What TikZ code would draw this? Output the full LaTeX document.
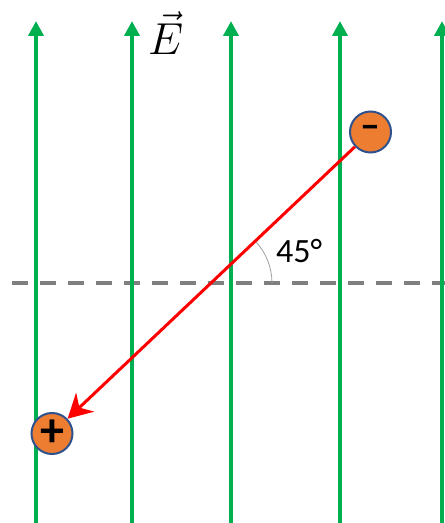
\RequirePackage{fix-cm}
\documentclass[tikz,border=0pt]{standalone}
\usepackage{fontspec}
\setmainfont{Carlito}
\usetikzlibrary{arrows.meta,calc}
\definecolor{Field}{HTML}{00B050}
\definecolor{Charge}{HTML}{ED7D31}
\definecolor{Rim}{HTML}{2F528F}
\definecolor{Guide}{HTML}{7F7F7F}

\begin{document}
\begin{tikzpicture}[x=1pt,y=1pt,
    field/.style={draw=Field,line width=4pt,-{Triangle[length=15pt,width=15pt]}},
    guide/.style={draw=Guide,line width=4pt,dash pattern=on 16pt off 12pt},
    charge/.style={circle,draw=Rim,line width=2pt,fill=Charge,minimum size=41pt,inner sep=0pt,font=\bfseries},
    arr/.style={-{Stealth[length=24pt,width=26pt]},line width=3pt,draw=red},
    ang/.style={draw=gray!75,line width=.8pt}
  ]
    \useasboundingbox (0,0) rectangle (445,523);
    \coordinate (dl) at (12,240);
    \coordinate (dr) at (445,240);
    \draw[guide] (dl) -- (dr);
    \foreach \x [count=\i] in {36,132,231,340,442} {
      \coordinate (f\i b) at (\x,0);
      \coordinate (f\i t) at (\x,502);
      \draw[field] (f\i b) -- (f\i t);
    }
    \node[anchor=base west,inner sep=0pt] (efield) at (148,468) {\scalebox{1.8}{\Huge$\vec{E}$}};
    \node[charge] (neg) at (370.5,391) {\fontsize{40}{40}\selectfont –};
    \node[charge] (pos) at (52,89.5) {\fontsize{48}{48}\selectfont +};
    \coordinate (cross) at (intersection of neg--pos and dl--dr);
    \draw[ang] let \p1=($(neg)-(pos)$) in ($(cross)+(61,0)$) arc[start angle=0,end angle={atan2(\y1,\x1)},radius=61];
    \draw[arr] (neg) -- (pos);
    \node[anchor=base west,inner sep=0pt,font=\fontsize{34}{34}\selectfont] (deg) at (276,260) {45°};
  \end{tikzpicture}
\end{document}
